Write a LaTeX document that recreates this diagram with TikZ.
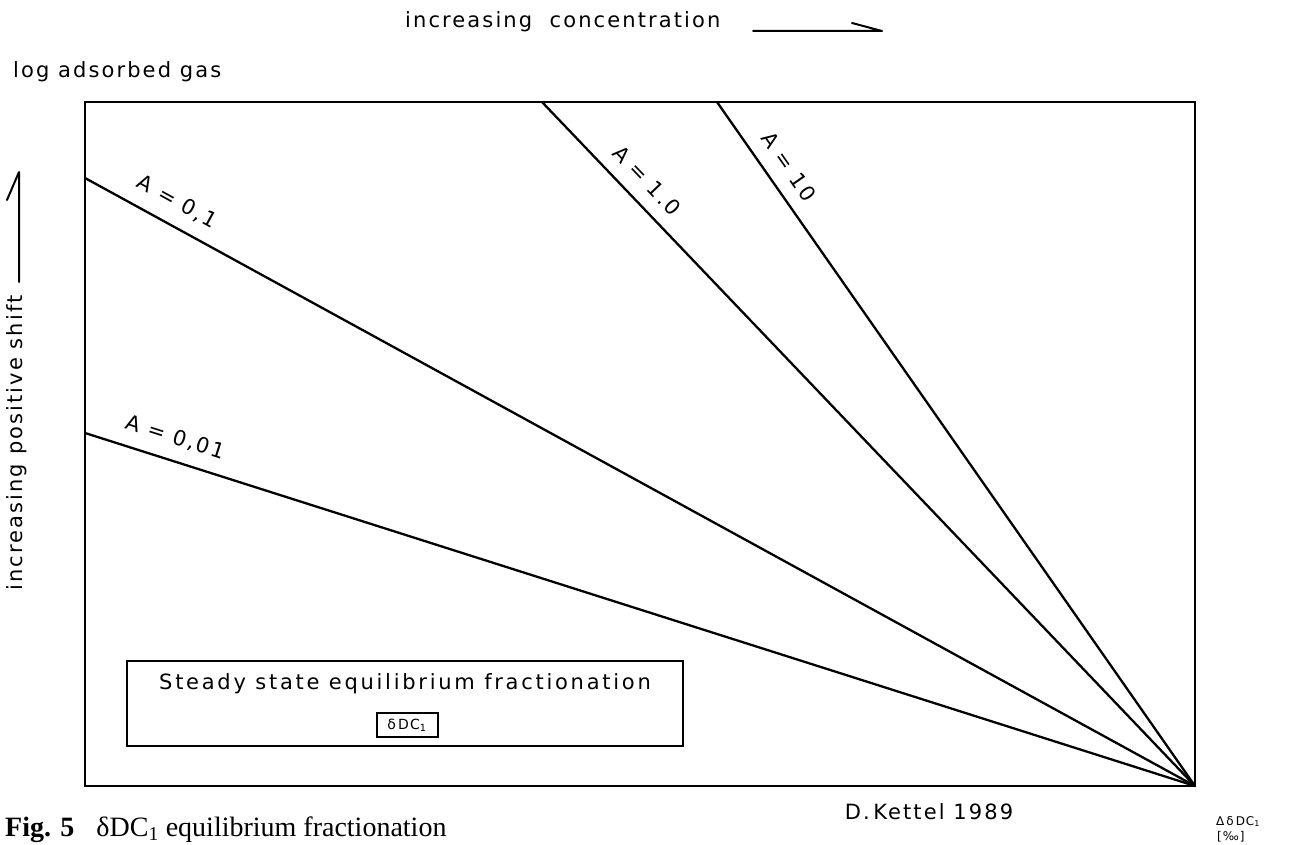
\documentclass[tikz,border=0pt]{standalone}
\usepackage{fontspec}
\setmainfont{Liberation Serif}
\newfontfamily\kf[LetterSpace=10]{DejaVu Sans}
\newfontfamily\kfw[LetterSpace=13]{DejaVu Sans}
\newfontfamily\kfs[LetterSpace=8]{DejaVu Sans}
\newcommand{\gapA}{\kern8.7pt}
\begin{document}
\begin{tikzpicture}[x=1pt,y=-1pt,
  txt/.style={font=\kf\fontsize{21}{24}\selectfont, inner sep=0pt},
  small/.style={font=\kfs\fontsize{12}{13}\selectfont, inner sep=0pt},
  ray/.style={line width=2.3pt, line cap=round},
  frame/.style={line width=2.6pt},
  arr/.style={line width=2pt, line cap=round, line join=round},
  lab/.style={txt, sloped, above=13pt},
]
\useasboundingbox (0,0) rectangle (1291,845);
% main frame
\coordinate (TL) at (85,102);
\coordinate (P) at (1195,786);
\draw[frame] (TL) rectangle (P);
% rays
\coordinate (s1) at (85,433);
\coordinate (s2) at (85,178);
\coordinate (s3) at (542,102);
\coordinate (s4) at (717,102);
\draw[ray] (s1) -- node[lab,pos=0.075] (l1) {A\gapA=\gapA0,01} (P);
\draw[ray] (s2) -- node[lab,pos=0.073] (l2) {A\gapA=\gapA0,1} (P);
\draw[ray] (s3) -- node[lab,pos=0.137] (l3) {A\gapA=\gapA1.0} (P);
\draw[ray] (s4) -- node[lab,pos=0.113] (l4) {A\gapA=\gapA10} (P);
% top axis text and arrow
\node[txt, anchor=base west] (conc) at (405,28) {increasing\ \ concentration};
\coordinate (ta1) at (753,31);
\coordinate (ta2) at (882,31);
\coordinate (ta3) at (852,23);
\draw[arr] (ta1) -- (ta2) -- (ta3);
% left labels
\node[txt, anchor=base west] (logads) at (13,78) {log adsorbed gas};
\node[txt, rotate=90] (shift) at (17,443) {increasing positive shift};
\coordinate (la1) at (19,282);
\coordinate (la2) at (19,172);
\coordinate (la3) at (7,200);
\draw[arr] (la1) -- (la2) -- (la3);
% steady state box
\node[draw, line width=2.2pt, minimum width=556pt, minimum height=85pt, inner sep=0pt] (ssbox) at (405,703.5) {};
\node[txt, font=\kfw\fontsize{21}{24}\selectfont] (sstext) at (405,684) {Steady state equilibrium fractionation};
\node[draw, line width=2pt, minimum width=61pt, minimum height=24pt, inner sep=2pt,
      font=\kfs\fontsize{14}{15}\selectfont] (dbox) at (407,725) {δ\,DC\textsubscript{1}};
% bottom texts
\node[txt, anchor=base] (kettel) at (929,819) {D.\,Kettel 1989};
\node[small, anchor=base west] (unit) at (1216,825) {Δ\,δ\,DC\textsubscript{1}};
\node[small, anchor=base west] (permil) at (1217,840) {[‰]};
\node[anchor=base west, inner sep=0pt, font=\fontsize{28}{30}\selectfont] (caption) at (5,836)
  {\textbf{Fig. 5}\hspace{22pt}δDC\textsubscript{1} equilibrium fractionation};
\end{tikzpicture}
\end{document}
